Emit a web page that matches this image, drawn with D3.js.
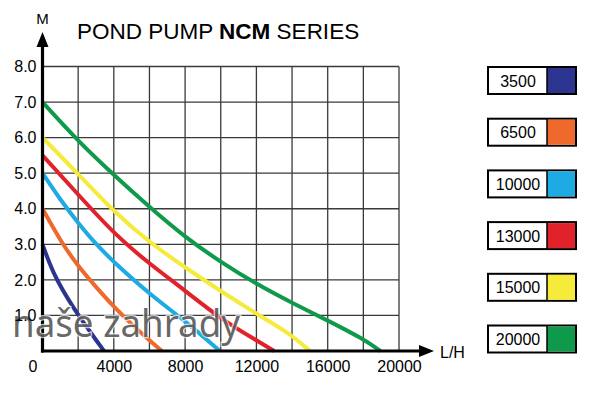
<!DOCTYPE html>
<html>
<head>
<script src="https://d3js.org/d3.v7.min.js"></script>
<style>
body { margin: 0; background: #fff; }
svg text { font-family: "Liberation Sans", Arial, sans-serif; }
</style>
</head>
<body>
<svg id="chart" width="600" height="398"></svg>
<script>
// pump models and their colours
var models = ["3500", "6500", "10000", "13000", "15000", "20000"];
var colors = ["#2b3590", "#f0692c", "#1eaae2", "#e2222b", "#f6ea3b", "#0f9a4b"];

// flow (L/H) and head (M)
var curve3500  = [[0,3],[400,2.45],[800,2.0],[1500,1.4],[2000,1.02],[2500,0.66],[3000,0.31],[3450,0]];
var curve6500  = [[0,4],[1000,3.1],[2000,2.38],[3000,1.8],[4000,1.24],[5000,0.75],[6000,0.3],[6700,0]];
var curve10000 = [[0,5],[1000,4.25],[2000,3.6],[3000,3.0],[4000,2.5],[6000,1.6],[8000,0.85],[9950,0]];
var curve13000 = [[0,5.5],[2000,4.4],[4000,3.3],[6000,2.45],[8000,1.7],[10000,0.9],[12000,0.3],[13000,0]];
var curve15000 = [[0,6],[2000,4.98],[4000,3.92],[6000,3.05],[8000,2.35],[10000,1.68],[12000,1.05],[14000,0.45],[15000,0]];
var curve20000 = [[0,7],[2000,5.9],[4000,4.95],[6000,4.05],[8000,3.2],[10000,2.5],[12000,1.88],[14000,1.35],[16000,0.86],[18000,0.34],[18950,0]];
var curves = [curve3500, curve6500, curve10000, curve13000, curve15000, curve20000];

var xTicks = [0, 4000, 8000, 12000, 16000, 20000];
var yTicks = [1, 2, 3, 4, 5, 6, 7, 8];

var svg = d3.select("#chart");

var x = d3.scaleLinear().domain([0, 20000]).range([42.5, 399]);
var y = d3.scaleLinear().domain([0, 8]).range([351, 66.5]);

// grid
svg.append("g").selectAll("line").data(yTicks).join("line")
    .attr("x1", x(0)).attr("x2", x(20000))
    .attr("y1", d => y(d)).attr("y2", d => y(d))
    .attr("stroke", "#3a3a3a").attr("stroke-width", 1.3);
svg.append("g").selectAll("line").data(d3.range(2000, 20001, 2000)).join("line")
    .attr("x1", d => x(d)).attr("x2", d => x(d))
    .attr("y1", y(0)).attr("y2", y(8))
    .attr("stroke", "#3a3a3a").attr("stroke-width", 1.3);

// curves
var line = d3.line().x(d => x(d[0])).y(d => y(d[1])).curve(d3.curveBasis);
svg.append("g").selectAll("path").data(curves).join("path")
    .attr("d", line)
    .attr("fill", "none")
    .attr("stroke", (d, i) => colors[i])
    .attr("stroke-width", 4);

// axes with arrows
svg.append("line").attr("x1", x(0)).attr("x2", x(0)).attr("y1", y(0) + 1.5).attr("y2", 44)
    .attr("stroke", "#000").attr("stroke-width", 3.2);
svg.append("path").attr("d", "M" + x(0) + ",32 L" + (x(0) - 6) + ",47 L" + (x(0) + 6) + ",47 Z").attr("fill", "#000");
svg.append("line").attr("x1", x(0) - 1.5).attr("x2", 422).attr("y1", y(0)).attr("y2", y(0))
    .attr("stroke", "#000").attr("stroke-width", 3.2);
svg.append("path").attr("d", "M434," + y(0) + " L419," + (y(0) - 6) + " L419," + (y(0) + 6) + " Z").attr("fill", "#000");

// watermark (sits under the tick labels)
svg.append("text").attr("x", 12).attr("y", 337)
    .attr("font-size", 38)
    .attr("textLength", 228).attr("lengthAdjust", "spacingAndGlyphs")
    .attr("fill", "#4d4d4d").attr("fill-opacity", 0.85)
    .attr("stroke", "#fff").attr("stroke-opacity", 0.7).attr("stroke-width", 2.5)
    .attr("paint-order", "stroke")
    .style("font-family", "Noto Sans, sans-serif")
    .text("naše zahrady");

// tick labels
var yAxis = d3.axisLeft(y).tickValues(yTicks).tickFormat(d3.format(".1f")).tickSize(0).tickPadding(6);
var gy = svg.append("g").attr("transform", "translate(" + x(0) + ",0)").call(yAxis);
gy.select(".domain").remove();
gy.selectAll("text").attr("font-size", 16).attr("fill", "#000").attr("font-family", "Liberation Sans, Arial, sans-serif");

var xAxis = d3.axisBottom(x).tickValues(xTicks).tickFormat(d3.format("d")).tickSize(0).tickPadding(10);
var gx = svg.append("g").attr("transform", "translate(0," + y(0) + ")").call(xAxis);
gx.select(".domain").remove();
gx.selectAll("text").attr("font-size", 16).attr("fill", "#000").attr("font-family", "Liberation Sans, Arial, sans-serif")
    .attr("dx", d => d === 0 ? -10 : 0);

svg.append("text").attr("x", x(0)).attr("y", 24).attr("text-anchor", "middle")
    .attr("font-size", 15).text("M");
svg.append("text").attr("x", 440).attr("y", 358).attr("font-size", 16).text("L/H");

// title
var title = svg.append("text").attr("x", 77).attr("y", 39).attr("font-size", 22.5);
title.append("tspan").text("POND PUMP ");
title.append("tspan").attr("font-weight", "bold").text("NCM");
title.append("tspan").text(" SERIES");

// legend
var lg = svg.append("g").selectAll("g").data(models).join("g")
    .attr("transform", (d, i) => "translate(488," + (67 + i * 51.7) + ")");
lg.append("rect").attr("width", 88).attr("height", 27)
    .attr("fill", "#fff").attr("stroke", "#000").attr("stroke-width", 2);
lg.append("rect").attr("x", 59).attr("y", 1).attr("width", 28).attr("height", 25)
    .attr("fill", (d, i) => colors[i]);
lg.append("line").attr("x1", 59).attr("x2", 59).attr("y1", 0).attr("y2", 27)
    .attr("stroke", "#000").attr("stroke-width", 1.5);
lg.append("text").attr("x", 30).attr("y", 19.5).attr("text-anchor", "middle")
    .attr("font-size", 16).text(d => d);
</script>
</body>
</html>
